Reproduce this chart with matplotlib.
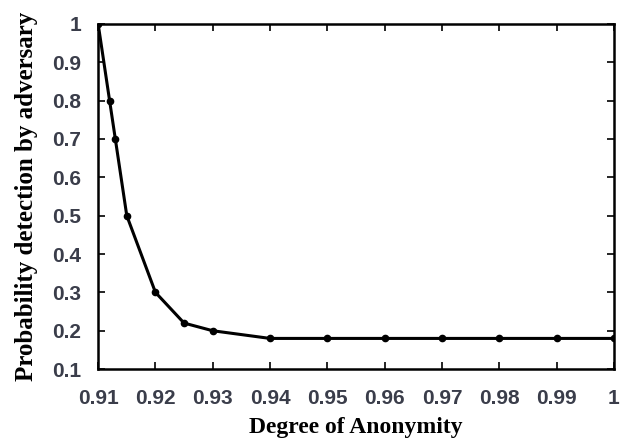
import numpy as np
import matplotlib.pyplot as plt

# Dados
anonymity = [0.91, 0.912, 0.913, 0.915, 0.92, 0.925, 0.93, 0.94, 0.95, 0.96, 0.97, 0.98, 0.99, 1.0]
detection = [1.0, 0.8, 0.7, 0.5, 0.3, 0.22, 0.2, 0.18, 0.18, 0.18, 0.18, 0.18, 0.18, 0.18]

xticks = [0.91, 0.92, 0.93, 0.94, 0.95, 0.96, 0.97, 0.98, 0.99, 1.0]
xtick_labels = ['0.91', '0.92', '0.93', '0.94', '0.95', '0.96', '0.97', '0.98', '0.99', '1']
yticks = [0.1, 0.2, 0.3, 0.4, 0.5, 0.6, 0.7, 0.8, 0.9, 1.0]
ytick_labels = ['0.1', '0.2', '0.3', '0.4', '0.5', '0.6', '0.7', '0.8', '0.9', '1']

fig = plt.figure(figsize=(6.29, 4.41), dpi=100)
ax = fig.add_axes([0.156, 0.163, 0.82, 0.783])

ax.plot(anonymity, detection, color='black', linewidth=2.2, marker='o', markersize=4.5)

ax.set_xlim(0.91, 1.0)
ax.set_ylim(0.1, 1.0)
ax.set_xticks(xticks)
ax.set_xticklabels(xtick_labels)
ax.set_yticks(yticks)
ax.set_yticklabels(ytick_labels)

tick_color = '#3a3d4a'
ax.tick_params(direction='in', top=True, right=True, length=5, width=1.2,
               labelsize=15, labelcolor=tick_color)
ax.tick_params(axis='x', pad=14)
ax.tick_params(axis='y', pad=12)
for lbl in ax.get_xticklabels() + ax.get_yticklabels():
    lbl.set_fontweight('bold')
    lbl.set_family('Liberation Sans')

for s in ax.spines.values():
    s.set_linewidth(1.8)

ax.set_xlabel('Degree of Anonymity', fontsize=17, fontweight='bold', family='Liberation Serif', labelpad=7)
ax.set_ylabel('Probability detection by adversary', fontsize=18, fontweight='bold', family='Liberation Serif', labelpad=10)

fig.savefig('out.png', dpi=100)
